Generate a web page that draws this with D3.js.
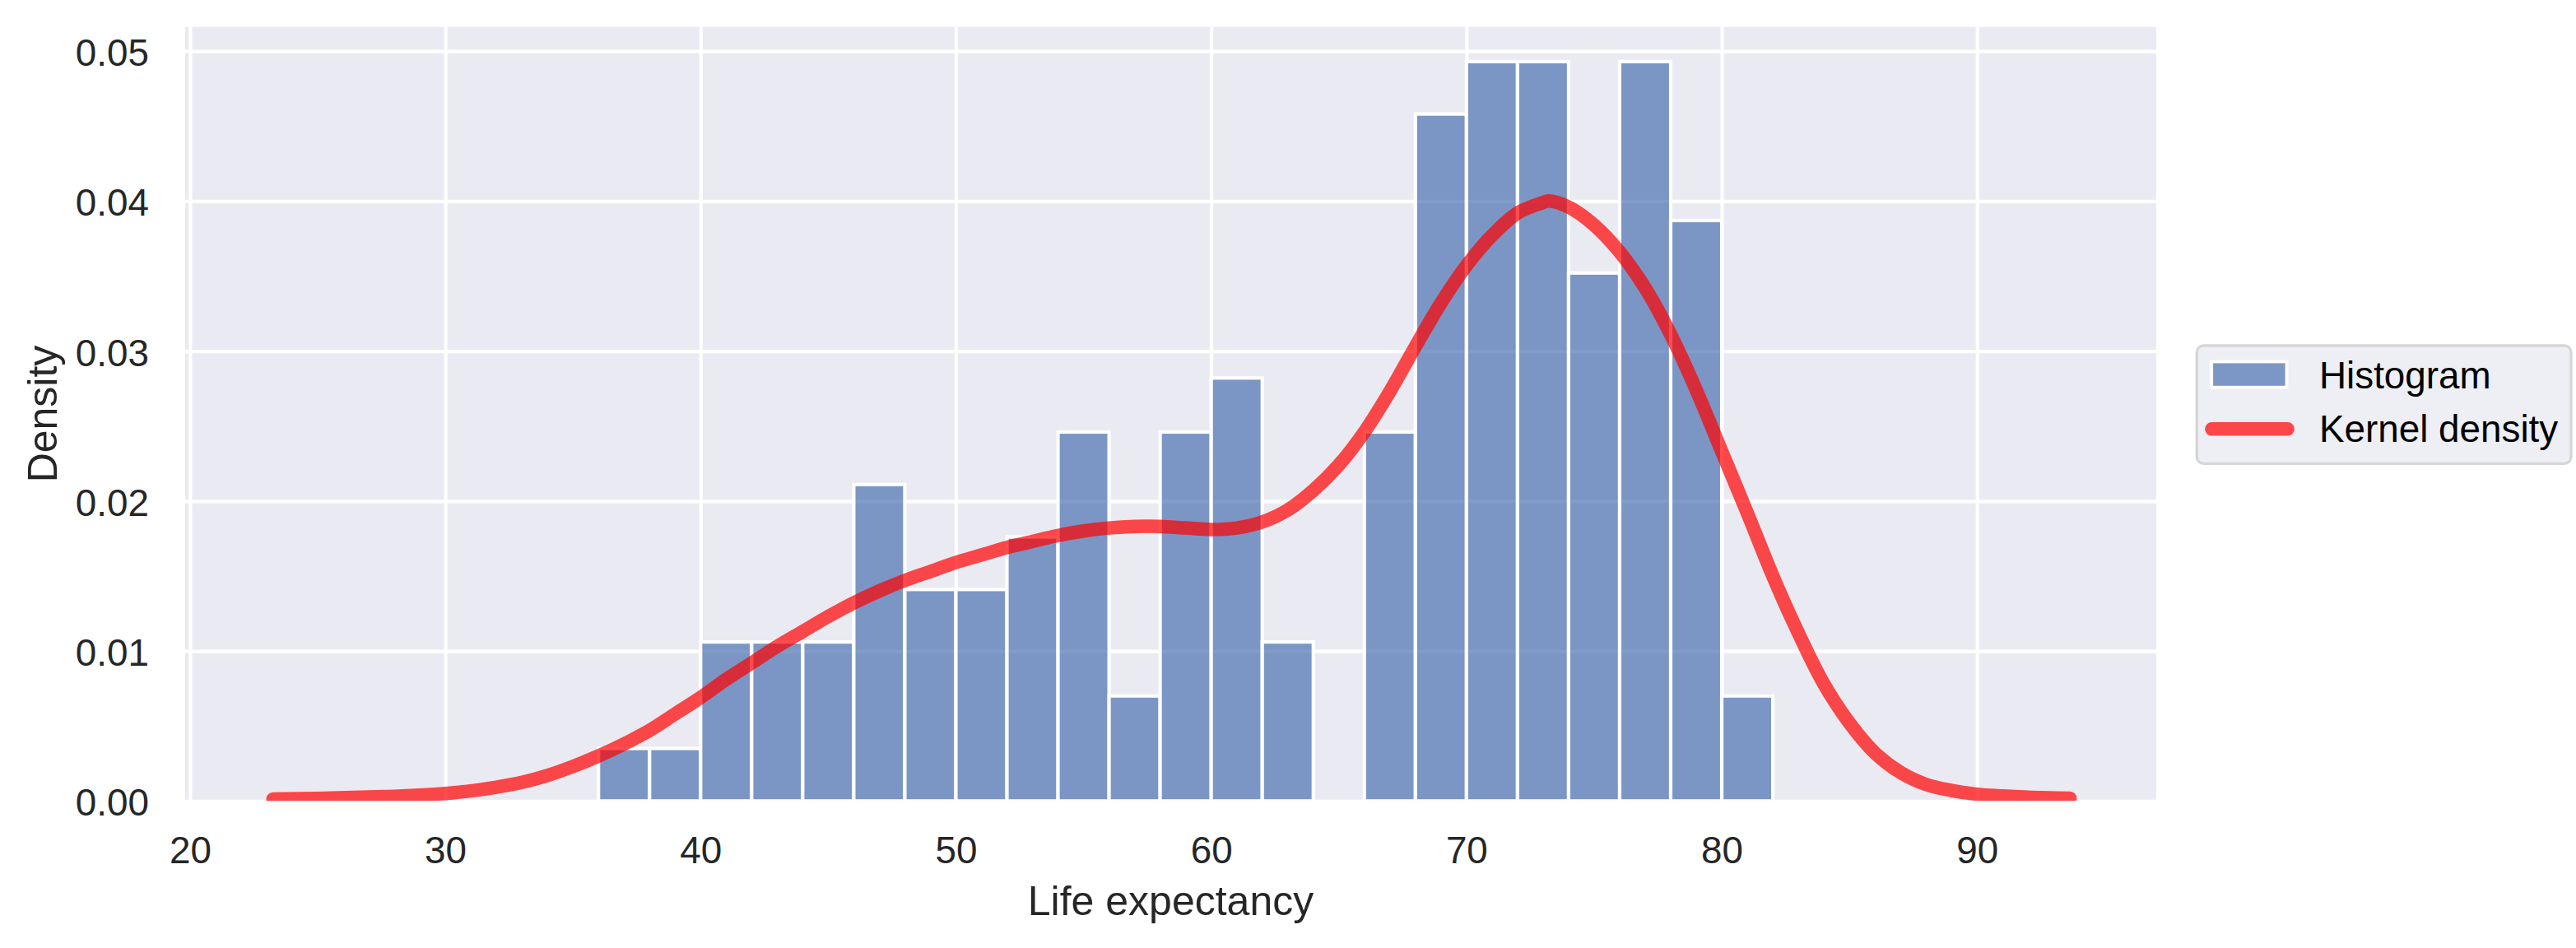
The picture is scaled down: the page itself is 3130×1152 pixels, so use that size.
<!DOCTYPE html>
<html>
<head>
<meta charset="utf-8">
<script src="https://cdn.jsdelivr.net/npm/d3@7"></script>
<style>
  html, body { margin: 0; padding: 0; background: #ffffff; }
  svg { display: block; }
  text { font-family: "Liberation Sans", Arial, "DejaVu Sans", sans-serif; }
</style>
</head>
<body>
<svg id="chart" width="3130" height="1152"></svg>
<script>
// ---------------- data ----------------
const binStart = 36;
const binWidth = 2;
const histDensity = [0.0035, 0.0035, 0.0106, 0.0106, 0.0106, 0.0211, 0.0141, 0.0141,
                     0.0176, 0.0246, 0.0070, 0.0246, 0.0282, 0.0106, 0.0, 0.0246,
                     0.0458, 0.0493, 0.0493, 0.0352, 0.0493, 0.0387, 0.0070];

const kdeX = [23.25, 25, 27, 28, 29, 30, 31, 32, 33, 34, 35, 36, 37, 38, 39, 40,
              41, 42, 43, 44, 45, 46, 47, 48, 49, 50, 51, 52, 53, 54, 55, 56,
              57, 58, 59, 60, 61, 62, 63, 64, 65, 66, 67, 68, 69, 70, 71, 72,
              73, 73.2, 74, 75, 76, 77, 78, 79, 80, 81, 82, 83, 84, 85, 86, 87,
              88, 89, 90, 91, 92, 93.64];
const kdeY = [0.00013, 0.00017, 0.00026, 0.00031, 0.00039, 0.00050, 0.00067, 0.00092, 0.00124, 0.0017, 0.0023, 0.0030, 0.0038, 0.0047, 0.0058, 0.0069,
              0.0081, 0.0092, 0.0103, 0.0113, 0.0123, 0.0132, 0.0140, 0.0147, 0.0153, 0.0159, 0.0164, 0.0169, 0.0173, 0.0177, 0.0180, 0.0182,
              0.0183, 0.0183, 0.0182, 0.0181, 0.0182, 0.0186, 0.0194, 0.0207, 0.0224, 0.0246, 0.0273, 0.0303, 0.0332, 0.0357, 0.0377, 0.0392,
              0.0399, 0.0400, 0.0396, 0.0384, 0.0366, 0.0342, 0.0311, 0.0274, 0.0233, 0.0192, 0.0150, 0.0112, 0.0078, 0.0052, 0.0032, 0.0019,
              0.0011, 0.0007, 0.00045, 0.00033, 0.00025, 0.00018];

const xTicks = [20, 30, 40, 50, 60, 70, 80, 90];
const yTicks = [0, 0.01, 0.02, 0.03, 0.04, 0.05];
const yTickLabels = ["0.00", "0.01", "0.02", "0.03", "0.04", "0.05"];
const xLabel = "Life expectancy";
const yLabel = "Density";
const legendLabels = ["Histogram", "Kernel density"];

// ---------------- layout ----------------
const plot = { left: 225, right: 2620, top: 32.7, bottom: 973.3 };
const W = plot.right - plot.left, H = plot.bottom - plot.top;
const bg = "#EAEAF2";
const barColor = "#4C72B0";
const tickColor = "#262626";

const svg = d3.select("#chart");

const x = d3.scaleLinear().domain([19.81, 97.02]).range([plot.left, plot.right]);
const y = d3.scaleLinear().domain([0, 0.05161]).range([plot.bottom, plot.top]);

svg.append("rect").attr("x", 0).attr("y", 0).attr("width", 3130).attr("height", 1152).attr("fill", "#ffffff");

// plot background
svg.append("rect")
  .attr("x", plot.left).attr("y", plot.top)
  .attr("width", W).attr("height", H)
  .attr("fill", bg);

svg.append("defs").append("clipPath").attr("id", "plotclip")
  .append("rect").attr("x", plot.left).attr("y", plot.top).attr("width", W).attr("height", H);

// grid lines
const gridX = svg.append("g").attr("transform", `translate(0,${plot.bottom})`)
  .call(d3.axisBottom(x).tickValues(xTicks).tickSize(-H).tickFormat(""));
gridX.select(".domain").remove();
gridX.selectAll("line").attr("stroke", "#ffffff").attr("stroke-width", 4.17);

const gridY = svg.append("g").attr("transform", `translate(${plot.left},0)`)
  .call(d3.axisLeft(y).tickValues(yTicks).tickSize(-W).tickFormat(""));
gridY.select(".domain").remove();
gridY.selectAll("line").attr("stroke", "#ffffff").attr("stroke-width", 4.17);

// histogram bars
const bins = histDensity.map((d, i) => ({ x0: binStart + i * binWidth, x1: binStart + (i + 1) * binWidth, d }))
  .filter(b => b.d > 0);
svg.append("g").attr("clip-path", "url(#plotclip)")
  .selectAll("rect").data(bins).join("rect")
  .attr("x", b => x(b.x0))
  .attr("y", b => y(b.d))
  .attr("width", b => x(b.x1) - x(b.x0))
  .attr("height", b => y(0) - y(b.d))
  .attr("fill", barColor)
  .attr("fill-opacity", 0.7)
  .attr("stroke", "#ffffff")
  .attr("stroke-width", 4.17);

// KDE curve
const kde = kdeX.map((v, i) => [v, kdeY[i]]);
const line = d3.line().x(d => x(d[0])).y(d => y(d[1])).curve(d3.curveCatmullRom.alpha(0.5));
svg.append("g").attr("clip-path", "url(#plotclip)")
  .append("path")
  .datum(kde)
  .attr("d", line)
  .attr("fill", "none")
  .attr("stroke", "#ff0000")
  .attr("stroke-opacity", 0.7)
  .attr("stroke-width", 16.5)
  .attr("stroke-linecap", "round")
  .attr("stroke-linejoin", "round");

// axes (labels only)
const xAxis = svg.append("g").attr("transform", `translate(0,${plot.bottom})`)
  .call(d3.axisBottom(x).tickValues(xTicks).tickSize(0).tickFormat(d3.format("d")));
xAxis.select(".domain").remove();
xAxis.selectAll("text")
  .attr("y", 1049 - plot.bottom).attr("dy", null)
  .attr("fill", tickColor)
  .style("font-size", "45.8px");

const yAxis = svg.append("g").attr("transform", `translate(${plot.left},0)`)
  .call(d3.axisLeft(y).tickValues(yTicks).tickSize(0).tickPadding(44)
        .tickFormat((d, i) => yTickLabels[i]));
yAxis.select(".domain").remove();
yAxis.selectAll("text")
  .attr("dy", "0.385em")
  .attr("fill", tickColor)
  .style("font-size", "45.8px");

// axis titles
svg.append("text")
  .attr("x", (plot.left + plot.right) / 2).attr("y", 1111.5)
  .attr("text-anchor", "middle")
  .attr("fill", tickColor)
  .style("font-size", "50px")
  .text(xLabel);

svg.append("text")
  .attr("transform", `translate(69,${(plot.top + plot.bottom) / 2}) rotate(-90)`)
  .attr("text-anchor", "middle")
  .attr("fill", tickColor)
  .style("font-size", "50px")
  .text(yLabel);

// legend
const lg = svg.append("g");
lg.append("rect")
  .attr("x", 2669.3).attr("y", 420).attr("width", 454.7).attr("height", 143.3)
  .attr("rx", 8).attr("ry", 8)
  .attr("fill", "#EEEEF5")
  .attr("stroke", "#D6D6D6")
  .attr("stroke-width", 3.3);
lg.append("rect")
  .attr("x", 2687.2).attr("y", 439.5).attr("width", 91.3).attr("height", 31.2)
  .attr("fill", barColor).attr("fill-opacity", 0.7)
  .attr("stroke", "#ffffff").attr("stroke-width", 3.8);
lg.append("line")
  .attr("x1", 2687.4).attr("x2", 2779.6).attr("y1", 521.3).attr("y2", 521.3)
  .attr("stroke", "#ff0000").attr("stroke-opacity", 0.7)
  .attr("stroke-width", 16.5).attr("stroke-linecap", "round");
lg.selectAll("text.lbl").data(legendLabels).join("text")
  .attr("class", "lbl")
  .attr("x", 2818)
  .attr("y", (d, i) => 471.6 + i * 65.6)
  .attr("fill", "#000000")
  .style("font-size", "45.8px")
  .text(d => d);
</script>
</body>
</html>
